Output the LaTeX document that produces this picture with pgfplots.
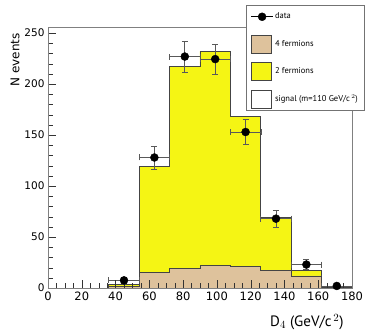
\documentclass[border=0pt]{standalone}
\usepackage{fontspec}
\setmainfont{DejaVu Sans}
\newfontfamily\lblfont{PT Sans}
\usepackage{pgfplots}
\pgfplotsset{compat=1.18}
\definecolor{twofermion}{HTML}{F5F514}
\definecolor{fourfermion}{HTML}{DEC29C}
\definecolor{edgegray}{HTML}{444444}

\begin{document}
\begin{tikzpicture}
\useasboundingbox (-48pt,-46pt) rectangle (336pt,288pt);
\begin{axis}[
    scale only axis,
    axis on top,
    width=304pt, height=261pt,
    xmin=0, xmax=180, ymin=0, ymax=256,
    xtick={0,20,...,180}, ytick={0,50,...,250},
    minor x tick num=3, minor y tick num=4,
    tick align=inside,
    xtick pos=bottom, ytick pos=left,
    major tick length=8pt, minor tick length=4.5pt,
    tick style={black!80},
    axis line style={black!50, line width=0.8pt},
    /pgf/number format/assume math mode=true,
    x tick label style={font=\fontsize{11.5}{12}\selectfont},
    y tick label style={font=\fontsize{10.5}{12}\selectfont},
    xlabel={D$_4$ (GeV/c$^{\,2}$)},
    ylabel={N events},
    xlabel style={font=\lblfont\fontsize{15}{16}\selectfont,
        at={(axis description cs:0.984,-0.130)}, anchor=east},
    ylabel style={font=\fontsize{12}{13}\selectfont,
        at={(axis description cs:-0.1086,0.874)}, anchor=center},
    legend cell align=left,
    legend style={at={(axis description cs:1.0395,1.084)}, anchor=north east,
        draw=black!55, fill=white, font=\lblfont\fontsize{8.5}{9}\selectfont,
        inner xsep=4.5pt, inner ysep=2.5pt, row sep=9pt,
        nodes={inner sep=1.5pt}},
]
% total background (2 fermions stacked on 4 fermions)
\addplot[const plot mark left, fill=twofermion, draw=edgegray, line width=0.6pt, forget plot]
  coordinates {(36,3.6) (54,119) (72,217.6) (90,232) (108,168) (126,69) (144,17) (162,0.5) (180,0.5)} \closedcycle;
% 4 fermions
\addplot[const plot mark left, fill=fourfermion, draw=edgegray, line width=0.6pt, forget plot]
  coordinates {(36,1.2) (54,15) (72,19.3) (90,22) (108,21) (126,17) (144,11.8) (162,0.3) (180,0.3)} \closedcycle;
% data
\addplot[only marks, mark=*, mark size=4pt, black, forget plot,
    error bars/.cd, x dir=both, x explicit, y dir=both, y explicit,
    error bar style={black!65, line width=0.6pt},
    error mark options={rotate=90, mark size=3pt, black!65, line width=0.6pt}]
  coordinates {
    (45,7.5) +- (9,2.7)
    (63,128) +- (9,11.3)
    (81,227) +- (9,15.1)
    (99,224.5) +- (9,15.0)
    (117,153) +- (9,12.4)
    (135,68) +- (9,8.2)
    (153,23) +- (9,4.8)
    (171,2) +- (9,1.4)
  };
\addlegendimage{legend image code/.code={
    \path[draw=none, fill=none] (0pt,-9pt) rectangle (21pt,9pt);
    \draw[black, line width=0.8pt] (0pt,0pt) -- (22pt,0pt);
    \fill[black] (11pt,0pt) circle (4pt);}}
\addlegendentry{data}
\addlegendimage{legend image code/.code={
    \draw[fill=fourfermion, draw=edgegray] (0pt,-9pt) rectangle (20pt,9pt);}}
\addlegendentry{4 fermions}
\addlegendimage{legend image code/.code={
    \draw[fill=twofermion, draw=edgegray] (0pt,-9pt) rectangle (20pt,9pt);}}
\addlegendentry{2 fermions}
\addlegendimage{legend image code/.code={
    \draw[fill=white, draw=edgegray] (0pt,-9pt) rectangle (20pt,9pt);}}
\addlegendentry{signal (m=110 GeV/c$^{\,2}$)}
\end{axis}
\end{tikzpicture}
\end{document}
